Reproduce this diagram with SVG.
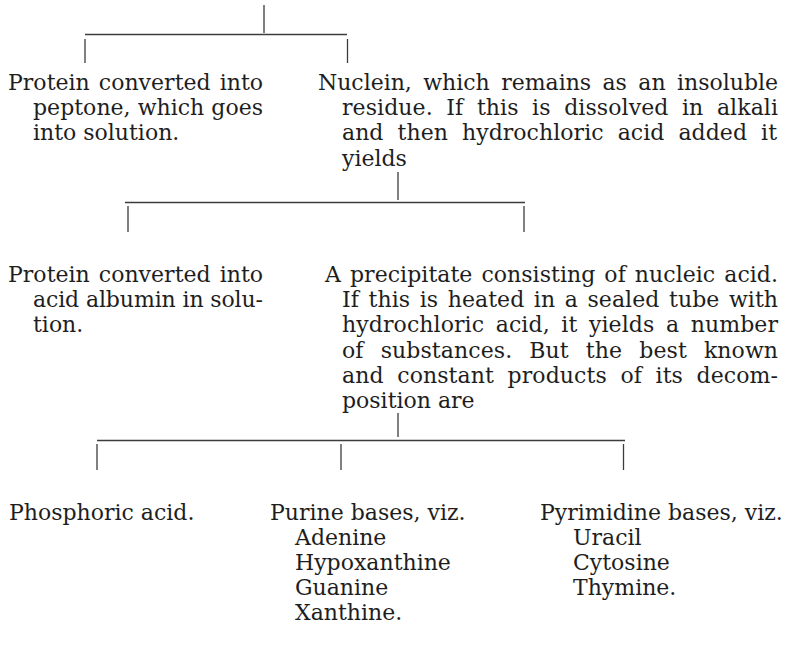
<svg xmlns="http://www.w3.org/2000/svg" width="787" height="646" viewBox="0 0 787 646">
<style>
text{font-family:"DejaVu Serif","Liberation Serif",serif;font-size:22px;fill:#1e1e1e}
.c line{stroke:#3c3c3c;stroke-width:1.3}
</style>
<rect width="787" height="646" fill="#ffffff"/>
<g class="c" id="connectors">
<line x1="264" y1="5" x2="264" y2="33"/>
<line x1="85" y1="34.5" x2="347" y2="34.5"/>
<line x1="85" y1="39" x2="85" y2="63"/>
<line x1="347.5" y1="39" x2="347.5" y2="63"/>
<line x1="398" y1="172" x2="398" y2="200"/>
<line x1="125" y1="202.5" x2="525" y2="202.5"/>
<line x1="128" y1="206" x2="128" y2="232"/>
<line x1="524" y1="206" x2="524" y2="232"/>
<line x1="398" y1="413" x2="398" y2="437"/>
<line x1="97" y1="440.5" x2="625" y2="440.5"/>
<line x1="97" y1="444" x2="97" y2="470"/>
<line x1="341" y1="444" x2="341" y2="470"/>
<line x1="623.5" y1="444" x2="623.5" y2="470"/>
</g>
<g id="peptone">
<text x="8" y="90" word-spacing="2" textLength="255" lengthAdjust="spacing">Protein converted into</text>
<text x="33" y="115" textLength="230" lengthAdjust="spacing">peptone, which goes</text>
<text x="33" y="140">into solution.</text>
</g>
<g id="nuclein">
<text x="318" y="90" word-spacing="4.5" textLength="460" lengthAdjust="spacing">Nuclein, which remains as an insoluble</text>
<text x="342" y="115" word-spacing="6.5" textLength="436" lengthAdjust="spacing">residue. If this is dissolved in alkali</text>
<text x="342" y="140" word-spacing="7" textLength="435" lengthAdjust="spacing">and then hydrochloric acid added it</text>
<text x="342" y="166">yields</text>
</g>
<g id="albumin">
<text x="8" y="282" word-spacing="2" textLength="255" lengthAdjust="spacing">Protein converted into</text>
<text x="33" y="307" textLength="230" lengthAdjust="spacing">acid albumin in solu-</text>
<text x="33" y="332">tion.</text>
</g>
<g id="nucleic-acid">
<text x="325" y="282" word-spacing="2" textLength="453" lengthAdjust="spacing">A precipitate consisting of nucleic acid.</text>
<text x="342" y="307" word-spacing="2.5" textLength="436" lengthAdjust="spacing">If this is heated in a sealed tube with</text>
<text x="342" y="332" word-spacing="4.5" textLength="436" lengthAdjust="spacing">hydrochloric acid, it yields a number</text>
<text x="342" y="358" word-spacing="10" textLength="436" lengthAdjust="spacing">of substances. But the best known</text>
<text x="342" y="383" word-spacing="6.5" textLength="436" lengthAdjust="spacing">and constant products of its decom-</text>
<text x="342" y="408">position are</text>
</g>
<g id="phosphoric">
<text x="9" y="520">Phosphoric acid.</text>
</g>
<g id="purine">
<text x="270" y="520">Purine bases, viz.</text>
<text x="295" y="545">Adenine</text>
<text x="295" y="570">Hypoxanthine</text>
<text x="295" y="595">Guanine</text>
<text x="295" y="620">Xanthine.</text>
</g>
<g id="pyrimidine">
<text x="540" y="520">Pyrimidine bases, viz.</text>
<text x="573" y="545">Uracil</text>
<text x="573" y="570">Cytosine</text>
<text x="573" y="595">Thymine.</text>
</g>
</svg>
